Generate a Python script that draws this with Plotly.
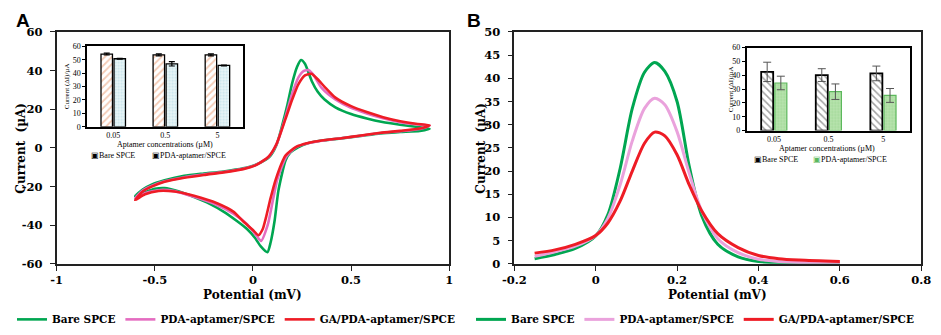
import plotly.graph_objects as go

# ---------------- Panel A: cyclic voltammograms ----------------
cv_bare_E = [-0.60, -0.56, -0.514, -0.45, -0.35, -0.25, -0.15, -0.05, 0.02, 0.083, 0.12, 0.15, 0.175,
             0.20, 0.225, 0.245, 0.265, 0.30, 0.33, 0.365, 0.42, 0.50, 0.58, 0.66, 0.75, 0.83, 0.90,
             0.85, 0.75, 0.65, 0.55, 0.45, 0.35, 0.28, 0.23, 0.19, 0.166, 0.13, 0.11, 0.09, 0.074,
             0.04, 0.01, -0.03, -0.08, -0.15, -0.22, -0.30, -0.38, -0.45, -0.50, -0.55, -0.60]
cv_bare_I = [-25.0, -21.5, -18.9, -16.8, -14.5, -13.3, -12.2, -10.6, -8.5, -4.8, 1.5, 12.0, 22.0,
             33.5, 42.0, 45.5, 43.5, 34.5, 29.0, 25.0, 21.0, 17.5, 15.2, 13.4, 12.0, 10.9, 9.9,
             8.8, 8.2, 7.5, 6.2, 4.9, 3.8, 2.4, 0.3, -2.5, -6.5, -22.0, -38.0, -49.0, -54.0,
             -51.0, -46.5, -42.0, -38.0, -33.0, -29.0, -25.5, -22.5, -20.8, -21.2, -23.0, -25.0]

cv_pda_E = [-0.60, -0.56, -0.51, -0.45, -0.35, -0.25, -0.15, -0.05, 0.02, 0.08, 0.12, 0.16, 0.20,
            0.232, 0.26, 0.285, 0.31, 0.35, 0.42, 0.497, 0.58, 0.663, 0.75, 0.83, 0.90,
            0.85, 0.75, 0.65, 0.55, 0.45, 0.35, 0.28, 0.22, 0.17, 0.125, 0.10, 0.075, 0.041,
            0.015, -0.03, -0.10, -0.20, -0.30, -0.40, -0.47, -0.55, -0.60]
cv_pda_I = [-26.0, -22.0, -19.5, -17.3, -15.2, -13.8, -12.5, -10.8, -8.6, -4.6, 1.8, 14.0, 28.0,
            36.5, 39.8, 40.2, 37.5, 31.0, 25.0, 20.8, 17.8, 15.3, 13.3, 12.2, 11.5,
            9.8, 8.6, 7.7, 6.3, 5.0, 3.7, 2.4, 0.4, -4.5, -16.0, -28.0, -40.0, -48.2,
            -45.0, -39.5, -34.0, -28.8, -25.3, -22.4, -21.8, -23.5, -26.0]

cv_ga_E = [-0.60, -0.56, -0.51, -0.45, -0.35, -0.25, -0.15, -0.05, 0.02, 0.08, 0.12, 0.166, 0.20,
           0.232, 0.265, 0.298, 0.33, 0.365, 0.42, 0.497, 0.58, 0.663, 0.75, 0.83, 0.90,
           0.85, 0.75, 0.65, 0.55, 0.45, 0.35, 0.28, 0.22, 0.166, 0.116, 0.09, 0.066, 0.05,
           0.028, 0.0, -0.05, -0.10, -0.18, -0.30, -0.40, -0.48, -0.55, -0.60]
cv_ga_I = [-27.0, -22.5, -19.8, -17.6, -15.5, -14.0, -12.7, -11.0, -8.7, -4.5, 2.0, 15.0, 25.0,
           33.0, 37.5, 38.3, 35.5, 31.6, 26.0, 21.7, 18.5, 15.9, 13.8, 12.5, 11.7,
           10.0, 8.8, 7.8, 6.4, 5.0, 3.8, 2.5, 0.5, -4.0, -16.4, -26.0, -36.2, -42.0,
           -45.2, -42.5, -38.0, -33.0, -28.8, -24.8, -22.6, -22.3, -24.0, -27.0]

A_xticks = [-1, -0.5, 0, 0.5, 1]
A_xlabels = ["-1", "-0.5", "0", "0.5", "1"]
A_yticks = [-60, -40, -20, 0, 20, 40, 60]
A_ylabels = ["-60", "-40", "-20", "0", "20", "40", "60"]

# ---------------- Panel B: DPV ----------------
dpv_E = [-0.15, -0.10, -0.05, 0.0, 0.03, 0.06, 0.09, 0.12, 0.145, 0.17, 0.20, 0.23, 0.26,
         0.30, 0.35, 0.40, 0.45, 0.50, 0.60]
dpv_bare = [1.1, 2.0, 3.3, 6.0, 10.6, 20.5, 33.5, 41.3, 43.4, 41.5, 35.0, 21.0, 10.5,
            4.2, 1.5, 0.5, 0.2, 0.1, 0.05]
dpv_pda = [1.6, 2.6, 3.8, 6.1, 9.8, 17.0, 26.5, 33.5, 35.7, 34.3, 28.5, 19.5, 11.5,
           5.4, 2.4, 1.0, 0.5, 0.3, 0.2]
dpv_ga = [2.3, 3.0, 4.2, 6.1, 8.8, 13.5, 20.0, 26.0, 28.4, 27.6, 23.5, 17.0, 11.5,
          6.5, 3.5, 1.8, 1.1, 0.8, 0.5]

B_xticks = [-0.2, 0, 0.2, 0.4, 0.6, 0.8]
B_xlabels = ["-0.2", "0", "0.2", "0.4", "0.6", "0.8"]
B_yticks = [0, 5, 10, 15, 20, 25, 30, 35, 40, 45, 50]

# ---------------- Insets ----------------
conc = ["0.05", "0.5", "5"]
insA_bare = [54.2, 53.6, 53.6]
insA_bare_err = [0.7, 0.7, 0.7]
insA_pda = [50.7, 46.9, 45.7]
insA_pda_err = [0.3, 1.6, 0.3]

insB_bare = [42.4, 40.1, 41.3]
insB_bare_err = [7.0, 4.6, 5.3]
insB_pda = [34.4, 28.1, 25.4]
insB_pda_err = [4.9, 5.6, 5.0]

series_names = ["Bare SPCE", "PDA-aptamer/SPCE", "GA/PDA-aptamer/SPCE"]
inset_names = ["Bare SPCE", "PDA-aptamer/SPCE"]

BOLD_SERIF = "DejaVu Serif"
SERIF = "Liberation Serif"
GREEN = "#00a651"
PINK_A = "#e46cc0"
PINK_B = "#eaa2dc"
RED = "#ee1c25"
W, H = 941, 335

def px(v):
    return v / W

def py(v):
    return 1 - v / H

fig = go.Figure()

for E, I, col, nm in [(cv_bare_E, cv_bare_I, GREEN, series_names[0]),
                      (cv_pda_E, cv_pda_I, PINK_A, series_names[1]),
                      (cv_ga_E, cv_ga_I, RED, series_names[2])]:
    fig.add_trace(go.Scatter(x=E, y=I, mode="lines", name=nm,
                             line=dict(color=col, width=2.6, shape="spline", smoothing=0.6),
                             xaxis="x", yaxis="y", legend="legend"))

for I, col, nm in [(dpv_bare, GREEN, series_names[0]),
                   (dpv_pda, PINK_B, series_names[1]),
                   (dpv_ga, RED, series_names[2])]:
    fig.add_trace(go.Scatter(x=dpv_E, y=I, mode="lines", name=nm,
                             line=dict(color=col, width=3, shape="spline", smoothing=0.8),
                             xaxis="x2", yaxis="y2", legend="legend2"))

# inset A bars
fig.add_trace(go.Bar(x=conc, y=insA_bare, name=inset_names[0], showlegend=False,
                     error_y=dict(type="data", array=insA_bare_err, color="black", thickness=1.2, width=3),
                     marker=dict(color="white", line=dict(color="black", width=1.3),
                                 pattern=dict(shape="/", fgcolor="#e8956a", bgcolor="white",
                                              size=5, solidity=0.35)),
                     xaxis="x3", yaxis="y3"))
fig.add_trace(go.Bar(x=conc, y=insA_pda, name=inset_names[1], showlegend=False,
                     error_y=dict(type="data", array=insA_pda_err, color="black", thickness=1.2, width=3),
                     marker=dict(color="#e2f2f5", line=dict(color="black", width=1.3),
                                 pattern=dict(shape=".", fgcolor="#9fd0da", bgcolor="#eaf6f8",
                                              size=3, solidity=0.4)),
                     xaxis="x3", yaxis="y3"))

# inset B bars
fig.add_trace(go.Bar(x=conc, y=insB_bare, name=inset_names[0], showlegend=False,
                     error_y=dict(type="data", array=insB_bare_err, color="#555", thickness=1, width=4),
                     marker=dict(color="white", line=dict(color="black", width=1.8),
                                 pattern=dict(shape="\\", fgcolor="#444", bgcolor="white",
                                              size=5, solidity=0.3)),
                     xaxis="x4", yaxis="y4"))
fig.add_trace(go.Bar(x=conc, y=insB_pda, name=inset_names[1], showlegend=False,
                     error_y=dict(type="data", array=insB_pda_err, color="#555", thickness=1, width=4),
                     marker=dict(color="#b3e0a9", line=dict(color="#5cb85c", width=1.2),
                                 pattern=dict(shape=".", fgcolor="#8ccd82", bgcolor="#b8e3ae",
                                              size=3, solidity=0.4)),
                     xaxis="x4", yaxis="y4"))

tick_main = dict(family=BOLD_SERIF, size=11.5, color="black", weight="bold")
small_tick = dict(family=SERIF, size=8, color="black")
frame = dict(showline=True, linecolor="#222", linewidth=1.5, mirror=True, showgrid=False,
             zeroline=False, ticks="outside", ticklen=5, tickwidth=1.2, tickcolor="#222")
inset_frame = dict(showline=True, linecolor="black", linewidth=1.6, mirror=True, showgrid=False,
                   zeroline=False)
legend_font = dict(family=BOLD_SERIF, size=10.5, color="black", weight="bold")

yA_top, yA_bot = 26, 268
fig.update_layout(
    width=W, height=H, autosize=False,
    margin=dict(l=0, r=0, t=0, b=0),
    paper_bgcolor="white", plot_bgcolor="white",
    barmode="group", bargap=0.5, bargroupgap=0.12,
    xaxis=dict(domain=[px(45.7), px(447.7)], range=[-1, 1], tickvals=A_xticks, ticktext=A_xlabels,
               tickfont=tick_main, anchor="y", **frame),
    yaxis=dict(domain=[py(yA_bot), py(yA_top)], range=[-60, 60], tickvals=A_yticks, ticktext=A_ylabels,
               tickfont=tick_main, anchor="x", ticklabelstandoff=5, **frame),
    xaxis2=dict(domain=[px(514.3), px(931)], range=[-0.2, 0.8], tickvals=B_xticks,
                ticktext=B_xlabels, tickfont=tick_main, anchor="y2", **frame),
    yaxis2=dict(domain=[py(yA_bot), py(yA_top)], range=[0, 50], tickvals=B_yticks,
                tickfont=tick_main, anchor="x2", ticklabelstandoff=5, **frame),
    xaxis3=dict(domain=[px(77), px(237)], type="category", tickfont=small_tick, anchor="y3",
                ticks="", **inset_frame),
    yaxis3=dict(domain=[py(125), py(41)], range=[0, 60], dtick=10, tickfont=small_tick, anchor="x3",
                ticks="outside", ticklen=3, tickcolor="black", **inset_frame),
    xaxis4=dict(domain=[px(752.3), px(920)], type="category", tickfont=small_tick, anchor="y4",
                ticks="", **inset_frame),
    yaxis4=dict(domain=[py(129), py(42.3)], range=[0, 60], dtick=10, tickfont=small_tick, anchor="x4",
                ticks="outside", ticklen=3, tickcolor="black", **inset_frame),
    legend=dict(orientation="h", x=px(0), y=py(326), xanchor="left", yanchor="middle",
                font=legend_font, bgcolor="rgba(0,0,0,0)", itemwidth=30),
    legend2=dict(orientation="h", x=px(470), y=py(326), xanchor="left", yanchor="middle",
                 font=legend_font, bgcolor="rgba(0,0,0,0)", itemwidth=30),
)

title_font = dict(family=BOLD_SERIF, size=12, color="black", weight="bold")
small_title = dict(family=SERIF, size=8, color="black")
leg_small = dict(family=SERIF, size=8, color="black")
annotations = [
    dict(text="A", x=px(2), y=py(1), xanchor="left", yanchor="top",
         font=dict(family="Liberation Sans", size=19, color="black", weight="bold")),
    dict(text="B", x=px(464), y=py(1), xanchor="left", yanchor="top",
         font=dict(family="Liberation Sans", size=19, color="black", weight="bold")),
    dict(text="Potential (mV)", x=px(246.7), y=py(301), xanchor="center", yanchor="middle", font=title_font),
    dict(text="Potential (mV)", x=px(722.7), y=py(301), xanchor="center", yanchor="middle", font=title_font),
    dict(text="Current  (µA)", x=px(9), y=py(147), textangle=-90, xanchor="center", yanchor="middle",
         font=title_font),
    dict(text="Current  (µA)", x=px(480), y=py(147), textangle=-90, xanchor="center", yanchor="middle",
         font=title_font),
    dict(text="Aptamer concentrations (µM)", x=px(157), y=py(143.5), xanchor="center", yanchor="middle",
         font=small_title),
    dict(text="Aptamer concentrations (µM)", x=px(835), y=py(148), xanchor="center", yanchor="middle",
         font=small_title),
    dict(text="Current (ΔI)/µA", x=px(56), y=py(83), textangle=-90, xanchor="center", yanchor="middle",
         font=dict(family=SERIF, size=7, color="black")),
    dict(text="Current (ΔI)/µA", x=px(737), y=py(86), textangle=-90, xanchor="center", yanchor="middle",
         font=dict(family=SERIF, size=7, color="black")),
    # inset legends
    dict(text="▣" + inset_names[0], x=px(79), y=py(155), xanchor="left", yanchor="middle", font=leg_small),
    dict(text="▣" + inset_names[1], x=px(141), y=py(155), xanchor="left", yanchor="middle", font=leg_small),
    dict(text="▣" + inset_names[0], x=px(758), y=py(159.5), xanchor="left", yanchor="middle", font=leg_small),
    dict(text="<span style='color:#5cb85c'>▣</span>" + inset_names[1], x=px(818), y=py(159.5),
         xanchor="left", yanchor="middle", font=leg_small),
]
for a in annotations:
    a.update(xref="paper", yref="paper", showarrow=False)
fig.update_layout(annotations=annotations)

fig.write_html("out.html", config={"displayModeBar": False},
               post_script="document.body.style.margin='0px';")
